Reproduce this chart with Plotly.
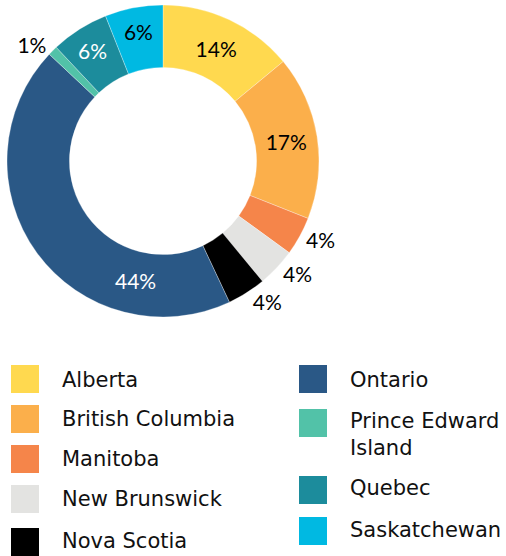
import math
import plotly.graph_objects as go

provinces = ["Alberta", "British Columbia", "Manitoba", "New Brunswick", "Nova Scotia",
             "Ontario", "Prince Edward Island", "Quebec", "Saskatchewan"]
legend_labels = ["Alberta", "British Columbia", "Manitoba", "New Brunswick", "Nova Scotia",
                 "Ontario", "Prince Edward<br>Island", "Quebec", "Saskatchewan"]
shares = [14, 17, 4, 4, 4, 44, 1, 6, 6]
colors = ["#FFD94F", "#FBAF4B", "#F5854A", "#E3E3E1", "#000000",
          "#2A5886", "#52C2A8", "#1C8C9C", "#00B9E2"]
text_positions = ["inside", "inside", "outside", "outside", "outside",
                  "inside", "outside", "inside", "inside"]
text_colors = ["#000000", "#000000", "#000000", "#000000", "#000000",
               "#FFFFFF", "#000000", "#FFFFFF", "#000000"]

W, H = 506, 556
CX, CY, R_OUT, HOLE = 163, 161, 156, 0.6

total = sum(shares)
labels_txt = [f"{round(100 * v / total)}%" for v in shares]
# Ontario label is drawn separately (placed lower in its slice, as in the reference)
ontario_idx = provinces.index("Ontario")
slice_text = [t if i != ontario_idx else "" for i, t in enumerate(labels_txt)]

fig = go.Figure()
fig.add_trace(go.Pie(
    labels=provinces,
    values=shares,
    text=slice_text,
    sort=False,
    direction="clockwise",
    rotation=0,
    hole=HOLE,
    marker=dict(colors=colors, line=dict(color="white", width=0.3)),
    textinfo="text",
    textposition=text_positions,
    insidetextorientation="horizontal",
    insidetextfont=dict(color=text_colors, size=21, family="Lato"),
    outsidetextfont=dict(color="#000000", size=21, family="Lato"),
    showlegend=False,
    hoverinfo="label+percent",
    domain=dict(x=[(CX - R_OUT) / W, (CX + R_OUT) / W],
                y=[1 - (CY + R_OUT) / H, 1 - (CY - R_OUT) / H]),
))

annotations = []
# Ontario label: position along the ring at ~a quarter of the way into its slice
start = sum(shares[:ontario_idx]) / total
ang = 2 * math.pi * (start + 0.24 * shares[ontario_idx] / total)
r_mid = R_OUT * (1 + HOLE) / 2 - 2
annotations.append(dict(text=labels_txt[ontario_idx], xref="paper", yref="paper",
                        x=(CX + r_mid * math.sin(ang)) / W,
                        y=1 - (CY - r_mid * math.cos(ang)) / H,
                        xanchor="center", yanchor="middle", showarrow=False,
                        font=dict(family="Lato", size=21, color="#FFFFFF")))

# Custom two-column legend (column-major order)
left_x, right_x = 11, 299
swatch = 28
text_dx = 49
rows_y = [379, 419, 459, 499, 542, 379, 423, 490, 531]
text_y = [380, 419, 459, 499, 541, 380, 434, 488, 530]
shapes = []
for i, (lab, col) in enumerate(zip(legend_labels, colors)):
    x0 = left_x if i < 5 else right_x
    cy = rows_y[i]
    shapes.append(dict(type="rect", xref="paper", yref="paper",
                       x0=x0 / W, x1=(x0 + swatch) / W,
                       y0=1 - (cy + swatch / 2) / H, y1=1 - (cy - swatch / 2) / H,
                       fillcolor=col, line=dict(width=0)))
    annotations.append(dict(text=lab, xref="paper", yref="paper",
                            x=(x0 + text_dx) / W, y=1 - text_y[i] / H,
                            xanchor="left", yanchor="middle", align="left",
                            showarrow=False,
                            font=dict(family="DejaVu Sans", size=21, color="#111111")))

fig.update_layout(
    width=W, height=H,
    margin=dict(l=0, r=0, t=0, b=0),
    paper_bgcolor="white",
    plot_bgcolor="white",
    shapes=shapes,
    annotations=annotations,
)

fig.write_html("out.html",
               config={"displayModeBar": False},
               post_script="document.body.style.margin='0px';document.body.style.overflow='hidden';")
